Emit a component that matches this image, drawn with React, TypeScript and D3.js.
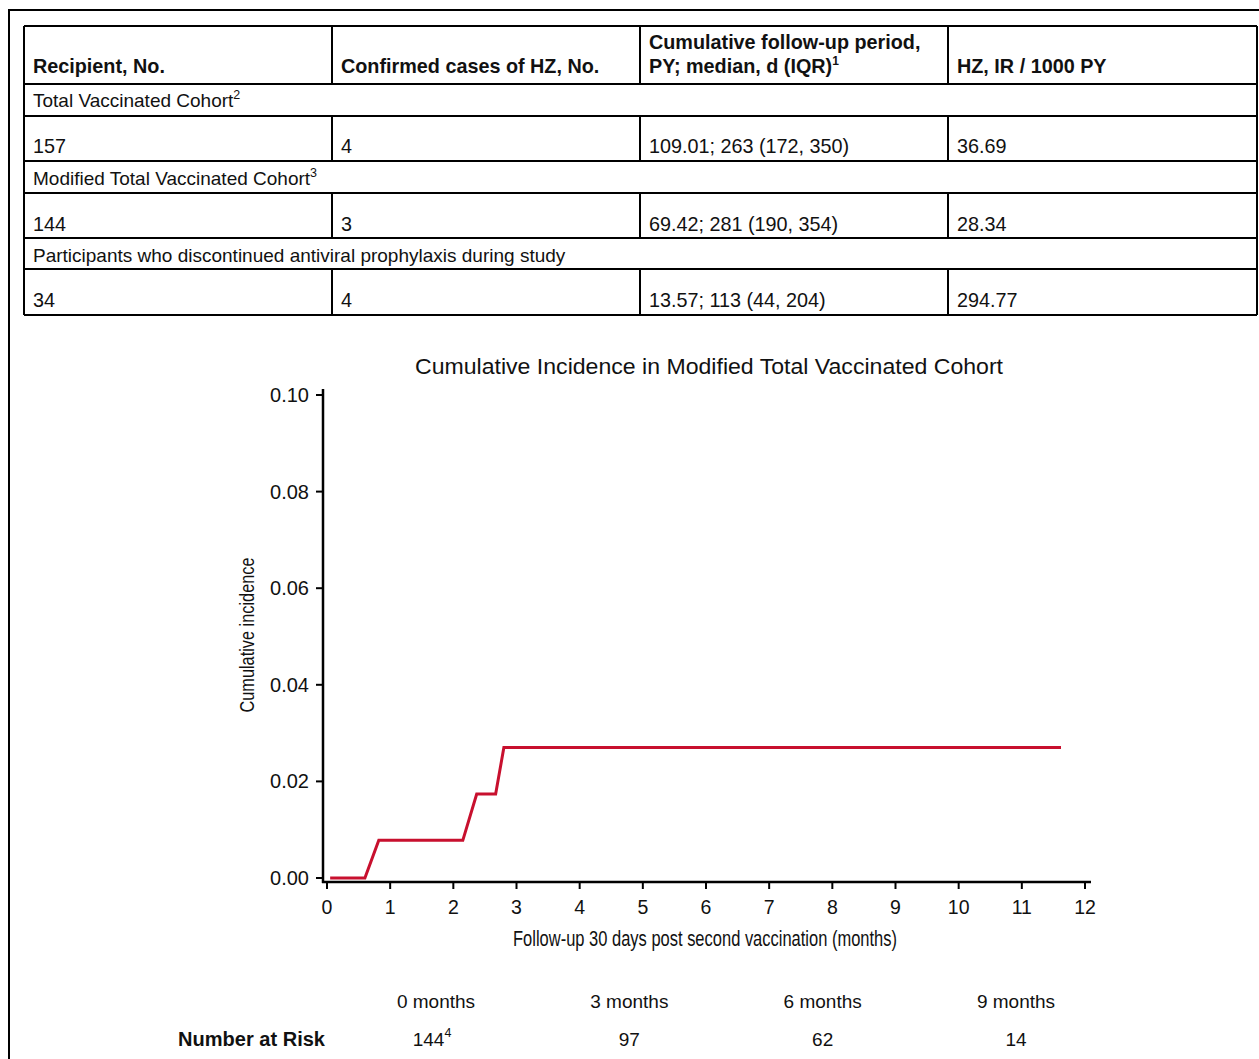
import React from "react";
import * as d3 from "d3";

// ---- Table data ----
const headerCols = ["Recipient, No.", "Confirmed cases of HZ, No.", "Cumulative follow-up period,|PY; median, d (IQR)", "HZ, IR / 1000 PY"];
const headerSups = ["", "", "1", ""];
const cohortNames = ["Total Vaccinated Cohort", "Modified Total Vaccinated Cohort", "Participants who discontinued antiviral prophylaxis during study"];
const cohortSups = ["2", "3", ""];
const recipients = ["157", "144", "34"];
const confirmedCases = ["4", "3", "4"];
const followUp = ["109.01; 263 (172, 350)", "69.42; 281 (190, 354)", "13.57; 113 (44, 204)"];
const incidenceRates = ["36.69", "28.34", "294.77"];

// ---- Curve data ----
const timeMonths = [0.05, 0.6, 0.82, 2.15, 2.37, 2.67, 2.8, 11.62];
const cumIncidence = [0, 0, 0.0078, 0.0078, 0.0174, 0.0174, 0.027, 0.027];
const xTicks = [0, 1, 2, 3, 4, 5, 6, 7, 8, 9, 10, 11, 12];
const yTicks = [0, 0.02, 0.04, 0.06, 0.08, 0.1];

// ---- Number at risk ----
const riskTimes = ["0 months", "3 months", "6 months", "9 months"];
const riskCounts = ["144", "97", "62", "14"];
const riskSups = ["4", "", "", ""];

const FONT = "'Liberation Sans', Arial, Helvetica, sans-serif";
const RED = "#c8102e";

export default function App() {
  const colX = [24, 332, 640, 948, 1257];
  const rowY = [26, 84, 116, 161, 193, 238, 269, 315];

  const x = d3.scaleLinear().domain([0, 12]).range([327, 1085]);
  const y = d3.scaleLinear().domain([0, 0.1]).range([878, 395]);
  const pts = timeMonths.map((t, i) => [t, cumIncidence[i]] as [number, number]);
  const line = d3.line<[number, number]>().x((d) => x(d[0])).y((d) => y(d[1]));
  const riskX = d3.scalePoint<string>().domain(riskTimes).range([436, 1016]);

  const sw = 2;
  const lines: React.ReactNode[] = [];
  rowY.forEach((ry, i) => lines.push(<line key={"h" + i} x1={colX[0]} x2={colX[4]} y1={ry} y2={ry} stroke="#000" strokeWidth={sw} />));
  lines.push(<line key="vl" x1={colX[0]} x2={colX[0]} y1={rowY[0]} y2={rowY[7]} stroke="#000" strokeWidth={sw} />);
  lines.push(<line key="vr" x1={colX[4]} x2={colX[4]} y1={rowY[0]} y2={rowY[7]} stroke="#000" strokeWidth={sw} />);
  const segRows: [number, number][] = [[rowY[0], rowY[1]], [rowY[2], rowY[3]], [rowY[4], rowY[5]], [rowY[6], rowY[7]]];
  segRows.forEach(([a, b], ri) =>
    [1, 2, 3].forEach((c) =>
      lines.push(<line key={"v" + ri + c} x1={colX[c]} x2={colX[c]} y1={a} y2={b} stroke="#000" strokeWidth={sw} />)
    )
  );

  const dataCols = [recipients, confirmedCases, followUp, incidenceRates];
  const sectionBase = [107, 185, 262];
  const dataBase = [153, 231, 307];

  return (
    <div style={{ position: "absolute", left: 0, top: 0 }}>
      <svg width={1259} height={1059} style={{ display: "block", background: "#fff" }} fontFamily={FONT}>
        <rect x={0} y={0} width={1259} height={1059} fill="#fff" />
        <rect x={9} y={10} width={1300} height={1100} fill="none" stroke="#000" strokeWidth={2} />
        {lines}
        {headerCols.map((h, i) => {
          const parts = h.split("|");
          return (
            <text key={"hd" + i} x={colX[i] + 9} fontSize={19.8} fontWeight="bold" fill="#111">
              {parts.length === 2 ? (
                <>
                  <tspan x={colX[i] + 9} y={49}>{parts[0]}</tspan>
                  <tspan x={colX[i] + 9} y={73}>{parts[1]}</tspan>
                  {headerSups[i] && <tspan dy={-8} fontSize={12}>{headerSups[i]}</tspan>}
                </>
              ) : (
                <tspan x={colX[i] + 9} y={73}>{h}</tspan>
              )}
            </text>
          );
        })}
        {cohortNames.map((n, i) => (
          <text key={"sec" + i} x={33} y={sectionBase[i]} fontSize={19} fill="#111">
            {n}
            {cohortSups[i] && <tspan dy={-8} fontSize={12.5}>{cohortSups[i]}</tspan>}
          </text>
        ))}
        {dataCols.map((col, c) =>
          col.map((v, r) => (
            <text key={"d" + c + r} x={colX[c] + 9} y={dataBase[r]} fontSize={19.8} fill="#111">
              {v}
            </text>
          ))
        )}

        <text x={709} y={374} textAnchor="middle" fontSize={22.5} fill="#111" textLength={588} lengthAdjust="spacingAndGlyphs">
          Cumulative Incidence in Modified Total Vaccinated Cohort
        </text>

        <line x1={323} x2={323} y1={389} y2={883} stroke="#000" strokeWidth={2.5} />
        <line x1={322} x2={1091} y1={882} y2={882} stroke="#000" strokeWidth={2.5} />
        {yTicks.map((t) => (
          <g key={"yt" + t}>
            <line x1={316} x2={323} y1={y(t)} y2={y(t)} stroke="#000" strokeWidth={2} />
            <text x={309} y={y(t) + 7} textAnchor="end" fontSize={20} fill="#111">
              {d3.format(".2f")(t)}
            </text>
          </g>
        ))}
        {xTicks.map((t) => (
          <g key={"xt" + t}>
            <line x1={x(t)} x2={x(t)} y1={882} y2={889} stroke="#000" strokeWidth={2} />
            <text x={x(t)} y={914} textAnchor="middle" fontSize={19.5} fill="#111">
              {t}
            </text>
          </g>
        ))}
        <text
          transform="translate(254,635) rotate(-90)"
          textAnchor="middle"
          fontSize={21}
          fill="#111"
          textLength={155}
          lengthAdjust="spacingAndGlyphs"
        >
          Cumulative incidence
        </text>
        <text x={705} y={946} textAnchor="middle" fontSize={21.5} fill="#111" textLength={384} lengthAdjust="spacingAndGlyphs">
          Follow-up 30 days post second vaccination (months)
        </text>

        <path d={line(pts) || ""} fill="none" stroke={RED} strokeWidth={3} strokeLinejoin="miter" />

        {riskTimes.map((t) => (
          <text key={"rt" + t} x={riskX(t)} y={1008} textAnchor="middle" fontSize={19} fill="#111">
            {t}
          </text>
        ))}
        <text x={178} y={1046} fontSize={20} fontWeight="bold" fill="#111" textLength={147} lengthAdjust="spacingAndGlyphs">
          Number at Risk
        </text>
        {riskCounts.map((c, i) => (
          <text key={"rc" + i} x={(riskX(riskTimes[i]) || 0) - (riskSups[i] ? 4 : 0)} y={1046} textAnchor="middle" fontSize={19} fill="#111">
            {c}
            {riskSups[i] && <tspan dy={-9} fontSize={12.5}>{riskSups[i]}</tspan>}
          </text>
        ))}
      </svg>
    </div>
  );
}
